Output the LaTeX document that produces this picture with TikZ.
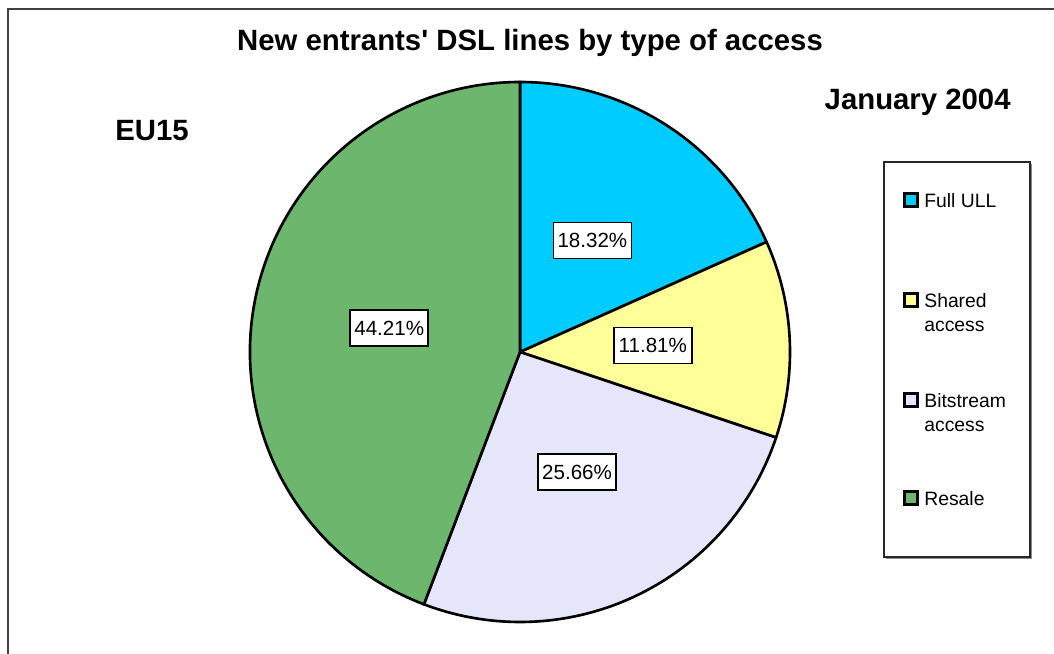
\documentclass[tikz,border=0pt]{standalone}
\usepackage{fontspec}
\setmainfont{Liberation Sans}
\usetikzlibrary{calc}

\definecolor{ullblue}{HTML}{00CCFF}
\definecolor{sharedyellow}{HTML}{FFFF99}
\definecolor{bitlilac}{HTML}{E6E6FA}
\definecolor{resalegreen}{HTML}{6DB66D}

\tikzset{
  slice/.style={draw=black, line width=1.5pt, line join=round},
  pctbox/.style={draw=black, fill=white, line width=1pt, inner sep=0pt,
    minimum width=1.56cm, minimum height=0.72cm, font=\fontsize{11.7}{13}\selectfont},
  keybox/.style={draw=black, line width=1.6pt, minimum size=0.27cm, inner sep=0pt},
  keytext/.style={anchor=north west, inner sep=0pt, align=left,
    font=\fontsize{11}{13.6}\selectfont},
  heading/.style={font=\fontsize{16.7}{19}\selectfont\bfseries, inner sep=0pt}
}

\begin{document}
\begin{tikzpicture}[x=0.02cm, y=0.02cm]
  \useasboundingbox (0,0) rectangle (1054,653);

  % outer frame, only top and left edges are inside the page
  \begin{scope}
    \clip (0,0) rectangle (1054,653);
    \draw[line width=1pt, black!75] (8,-20) rectangle (1080,644);
  \end{scope}

  % headings
  \node[heading] (title) at (530,610) {New entrants\textquotesingle\ DSL lines by type of access};
  \node[heading] (region) at (152,522) {EU15};
  \node[heading, anchor=east] (date) at (1011,551) {January 2004};

  % pie centre
  \coordinate (O) at (520,301);
  \def\R{270}

  % slices, clockwise from the top
  \foreach \val/\col [count=\i, evaluate=\val as \endang using \startang-3.6*\val,
      remember=\endang as \startang (initially 90)]
      in {18.32/ullblue, 11.81/sharedyellow, 25.66/bitlilac, 44.21/resalegreen} {
    \draw[slice, fill=\col] (O) -- ($(O)+(\startang:\R)$)
      arc[start angle=\startang, end angle=\endang, radius=\R] -- cycle;
  }

  % percentage labels
  \foreach \val/\mid [count=\i] in {18.32/57.03, 11.81/2.8, 25.66/-64.6, 44.21/-190.4} {
    \node[pctbox] (pct\i) at ($(O)+(\mid:133)$) {\val\%};
  }

  % legend
  \fill[black!45] (886,94) rectangle (1032,489);
  \draw[fill=white, draw=black!85, line width=1.2pt] (884,96) rectangle (1030,491);

  \node[keybox, fill=ullblue] (key1) at (911,453) {};
  \node[keytext] (txt1) at (924,460) {Full ULL};

  \node[keybox, fill=sharedyellow] (key2) at (911,353) {};
  \node[keytext] (txt2) at (924,360) {Shared\\access};

  \node[keybox, fill=bitlilac] (key3) at (911,253) {};
  \node[keytext] (txt3) at (924,260) {Bitstream\\access};

  \node[keybox, fill=resalegreen] (key4) at (911,155) {};
  \node[keytext] (txt4) at (924,162) {Resale};
\end{tikzpicture}
\end{document}
